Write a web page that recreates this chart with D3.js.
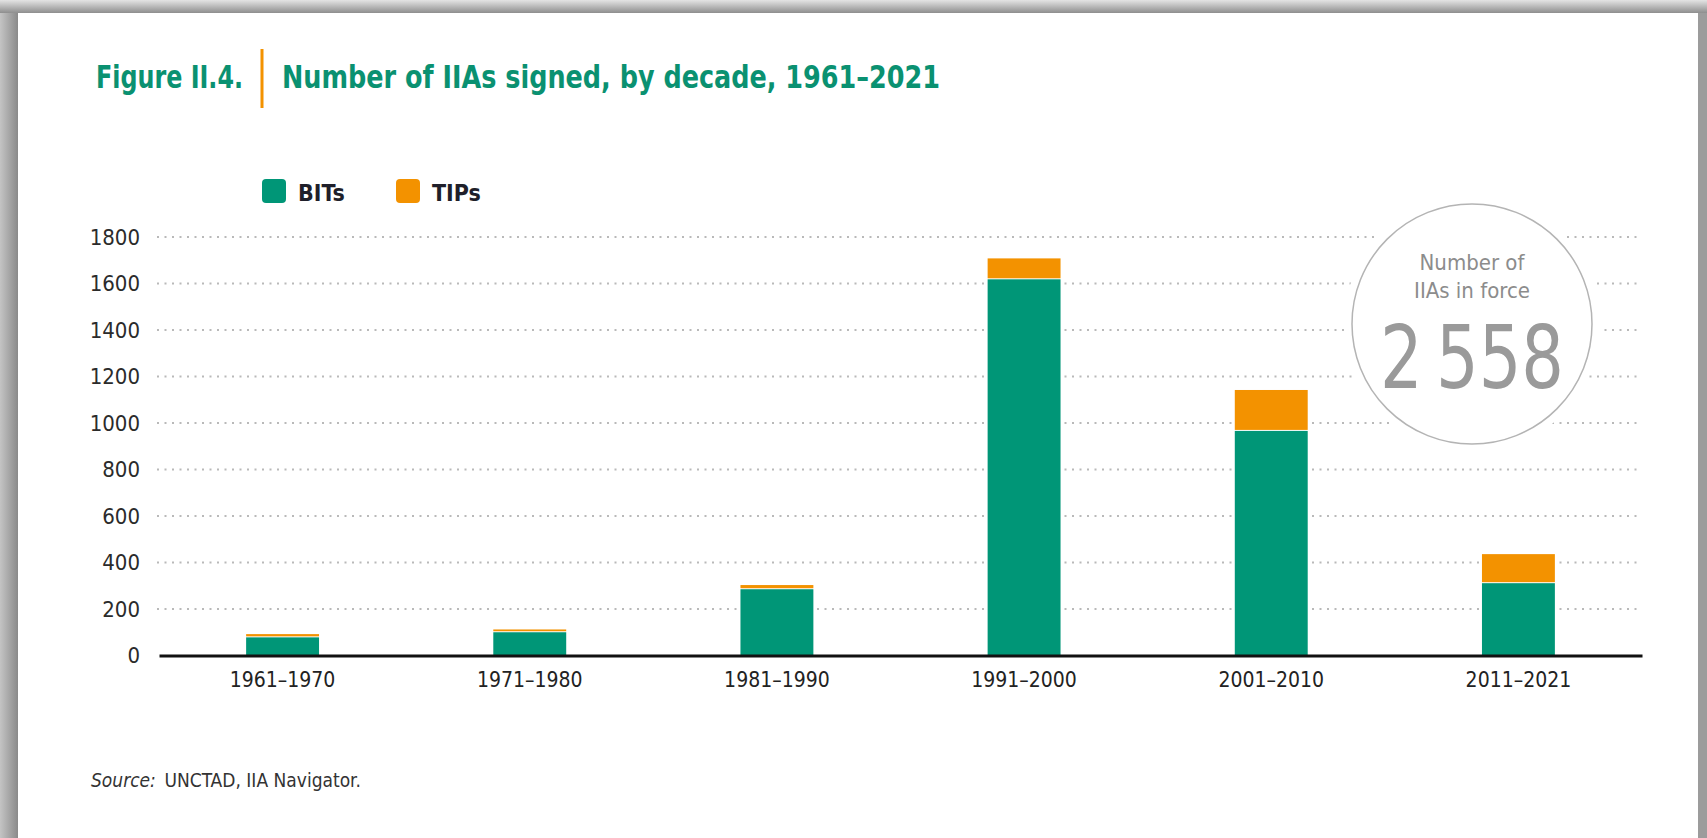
<!DOCTYPE html>
<html>
<head>
<meta charset="utf-8">
<script src="https://cdn.jsdelivr.net/npm/d3@7"></script>
<style>
  html, body { margin: 0; padding: 0; background: #9c9c9c; }
  svg { display: block; }
  text { font-family: 'Liberation Sans Narrow', 'DejaVu Sans Condensed', 'Liberation Sans', sans-serif; }
</style>
</head>
<body>
<div id="chart"></div>
<script>
const decades = ['1961–1970', '1971–1980', '1981–1990', '1991–2000', '2001–2010', '2011–2021'];
const bits = [78, 100, 285, 1618, 966, 311];
const tips = [14, 12, 18, 90, 176, 125];
const yTicks = [0, 200, 400, 600, 800, 1000, 1200, 1400, 1600, 1800];
const seriesNames = ['BITs', 'TIPs'];
const inForce = '2\u2009558';

const GREEN = '#009677';
const ORANGE = '#f39200';
const TITLE_GREEN = '#0a9171';

const W = 1707, H = 838;

const svg = d3.select('#chart').append('svg')
    .attr('width', W)
    .attr('height', H);

// page frame: gray shadow round a white sheet
const defs = svg.append('defs');
const topGrad = defs.append('linearGradient')
    .attr('id', 'topGrad').attr('x1', 0).attr('y1', 0).attr('x2', 0).attr('y2', 1);
topGrad.append('stop').attr('offset', '0%').attr('stop-color', '#e4e4e4');
topGrad.append('stop').attr('offset', '100%').attr('stop-color', '#8e8e8e');
const leftGrad = defs.append('linearGradient')
    .attr('id', 'leftGrad').attr('x1', 0).attr('y1', 0).attr('x2', 1).attr('y2', 0);
leftGrad.append('stop').attr('offset', '0%').attr('stop-color', '#c4c4c4');
leftGrad.append('stop').attr('offset', '100%').attr('stop-color', '#8a8a8a');

svg.append('rect').attr('width', W).attr('height', H).attr('fill', '#9c9c9c');
svg.append('rect').attr('width', 18).attr('height', H).attr('fill', 'url(#leftGrad)');
svg.append('rect').attr('width', W).attr('height', 13).attr('fill', 'url(#topGrad)');
svg.append('rect')
    .attr('x', 18).attr('y', 13)
    .attr('width', 1698 - 18).attr('height', H)
    .attr('fill', '#ffffff');

// title (squeezed to the condensed widths of the original)
const title = svg.append('g');
title.append('text')
    .attr('x', 96).attr('y', 88)
    .attr('fill', TITLE_GREEN)
    .attr('font-size', 32).attr('font-weight', 'bold')
    .attr('textLength', 147).attr('lengthAdjust', 'spacingAndGlyphs')
    .text('Figure II.4.');
title.append('rect')
    .attr('x', 260.5).attr('y', 49)
    .attr('width', 3).attr('height', 59)
    .attr('fill', ORANGE);
title.append('text')
    .attr('x', 282).attr('y', 88)
    .attr('fill', TITLE_GREEN)
    .attr('font-size', 32).attr('font-weight', 'bold')
    .attr('textLength', 658).attr('lengthAdjust', 'spacingAndGlyphs')
    .text('Number of IIAs signed, by decade, 1961–2021');

// scales
const x = d3.scaleBand()
    .domain(decades)
    .range([159, 1642])
    .paddingInner(0.705)
    .paddingOuter(0.3525);

const y = d3.scaleLinear()
    .domain([0, 1800])
    .range([655.5, 237]);

// gridlines
svg.append('g')
    .selectAll('line')
    .data(yTicks.filter(d => d > 0))
    .join('line')
    .attr('x1', 157).attr('x2', 1640)
    .attr('y1', d => y(d)).attr('y2', d => y(d))
    .attr('stroke', '#b9b9b9')
    .attr('stroke-width', 2)
    .attr('stroke-dasharray', '2,5.5');

// y axis labels
const yAxis = svg.append('g')
    .attr('transform', 'translate(140,0)')
    .call(d3.axisLeft(y).tickValues(yTicks).tickFormat(d3.format('d')).tickSize(0).tickPadding(0));
yAxis.select('.domain').remove();
yAxis.selectAll('text')
    .attr('font-family', null)
    .attr('font-size', 22)
    .attr('fill', '#2b2b2b');

// bars
const rows = decades.map((d, i) => ({decade: d, bits: bits[i], tips: tips[i]}));
const bars = svg.append('g');
bars.selectAll('rect.bit')
    .data(rows)
    .join('rect')
    .attr('class', 'bit')
    .attr('x', d => x(d.decade))
    .attr('width', x.bandwidth())
    .attr('y', d => y(d.bits))
    .attr('height', d => y(0) - y(d.bits))
    .attr('fill', GREEN);
bars.selectAll('rect.tip')
    .data(rows)
    .join('rect')
    .attr('class', 'tip')
    .attr('x', d => x(d.decade))
    .attr('width', x.bandwidth())
    .attr('y', d => y(d.bits + d.tips))
    .attr('height', d => Math.max(1, y(d.bits) - y(d.bits + d.tips) - 1))
    .attr('fill', ORANGE);

// x axis
const xAxis = svg.append('g')
    .attr('transform', `translate(0,${y(0)})`)
    .call(d3.axisBottom(x).tickSize(0).tickPadding(17));
xAxis.select('.domain')
    .attr('stroke', '#111')
    .attr('stroke-width', 3);
xAxis.selectAll('text')
    .attr('font-family', null)
    .attr('font-size', 21)
    .attr('fill', '#222');

// legend
const legend = svg.append('g');
const legendX = [262, 396];
seriesNames.forEach((name, i) => {
    legend.append('rect')
        .attr('x', legendX[i]).attr('y', 179)
        .attr('width', 24).attr('height', 24)
        .attr('rx', 4)
        .attr('fill', i === 0 ? GREEN : ORANGE);
    legend.append('text')
        .attr('x', legendX[i] + 36).attr('y', 201)
        .attr('font-size', 23).attr('font-weight', 'bold')
        .attr('fill', '#1f1f2a')
        .text(name);
});

// "in force" badge
const badge = svg.append('g').attr('transform', 'translate(1472,324)');
badge.append('circle').attr('r', 128).attr('fill', '#ffffff');
badge.append('circle').attr('r', 120)
    .attr('fill', '#ffffff')
    .attr('stroke', '#b4b4b4')
    .attr('stroke-width', 1.5);
badge.append('text')
    .attr('y', -54).attr('text-anchor', 'middle')
    .attr('font-size', 22).attr('fill', '#8c8c8c')
    .text('Number of');
badge.append('text')
    .attr('y', -26).attr('text-anchor', 'middle')
    .attr('font-size', 22).attr('fill', '#8c8c8c')
    .text('IIAs in force');
badge.append('text')
    .attr('y', 64).attr('text-anchor', 'middle')
    .attr('font-family', 'Roboto, sans-serif')
    .attr('font-weight', 300)
    .attr('font-size', 88).attr('fill', '#9a9a9a')
    .attr('textLength', 184)
    .attr('lengthAdjust', 'spacingAndGlyphs')
    .text(inForce);

// source note
const source = svg.append('text')
    .attr('x', 91).attr('y', 787)
    .attr('font-size', 19).attr('fill', '#333');
source.append('tspan').attr('font-style', 'italic').text('Source:');
source.append('tspan').text('\u2002UNCTAD, IIA Navigator.');
</script>
</body>
</html>
